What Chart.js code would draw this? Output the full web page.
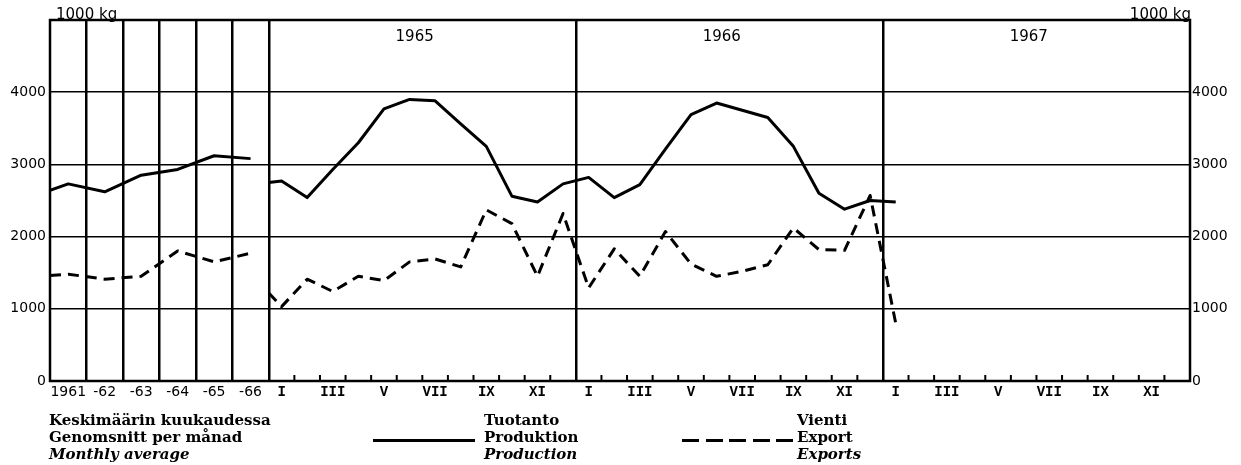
<!DOCTYPE html>
<html>
<head>
<meta charset="utf-8">
<script src="https://cdn.jsdelivr.net/npm/chart.js@4.4.0/dist/chart.umd.min.js"></script>
<style>
    body { margin: 0; background: #fff; }
    #wrap { position: relative; width: 1241px; height: 465px; }
    .note {
        position: absolute;
        top: 412px;
        font-family: "DejaVu Serif", serif;
        font-weight: bold;
        font-size: 15px;
        line-height: 17px;
        color: #000;
        white-space: nowrap;
    }
    .note i { font-style: italic; }
    .sample { position: absolute; top: 439px; height: 3px; }
</style>
</head>
<body>
<div id="wrap">
    <canvas id="chart" width="1241" height="465"></canvas>
    <div class="note" style="left:49px">Keskimäärin kuukaudessa<br>Genomsnitt per månad<br><i>Monthly average</i></div>
    <div class="sample" style="left:373px; width:102px; background:#000"></div>
    <div class="note" style="left:484px">Tuotanto<br>Produktion<br><i>Production</i></div>
    <div class="sample" style="left:682px; width:111px; background:repeating-linear-gradient(to right, #000 0 17px, transparent 17px 23.5px)"></div>
    <div class="note" style="left:797px">Vienti<br>Export<br><i>Exports</i></div>
</div>
<script>
// Annual averages, 1000 kg per month
var years = ['1961', '-62', '-63', '-64', '-65', '-66'];
var annualProduction = [2730, 2620, 2850, 2930, 3120, 3080];
var annualExport = [1480, 1410, 1450, 1800, 1650, 1770];
var annualProductionStart = 2640;
var annualExportStart = 1460;

// Monthly figures, 1000 kg
var panelYears = ['1965', '1966', '1967'];
var monthLabels = ['I', 'II', 'III', 'IV', 'V', 'VI', 'VII', 'VIII', 'IX', 'X', 'XI', 'XII'];
var production1965 = [2770, 2540, 2930, 3300, 3770, 3900, 3880, 3560, 3250, 2560, 2480, 2730];
var production1966 = [2820, 2540, 2720, 3210, 3690, 3850, 3750, 3650, 3250, 2600, 2380, 2500];
var production1967 = [2480];
var export1965 = [1030, 1410, 1240, 1450, 1390, 1650, 1690, 1580, 2370, 2180, 1450, 2320];
var export1966 = [1290, 1830, 1450, 2070, 1620, 1450, 1520, 1610, 2120, 1820, 1810, 2570];
var export1967 = [800];
var monthlyProductionStart = 2750;
var monthlyExportStart = 1220;

var yTicks = [0, 1000, 2000, 3000, 4000];

// x axis is measured in months; a yearly column is a bit wider than a month
var YEAR_W = 1.425;
var M0 = years.length * YEAR_W;
var X_MAX = M0 + 36;

function annualPoints(start, values) {
    var pts = [{ x: 0, y: start }];
    values.forEach(function(v, i) { pts.push({ x: (i + 0.5) * YEAR_W, y: v }); });
    return pts;
}
function monthlyPoints(start, perYear) {
    var pts = [{ x: M0, y: start }];
    perYear.forEach(function(vals, k) {
        vals.forEach(function(v, m) { pts.push({ x: M0 + 12 * k + m + 0.5, y: v }); });
    });
    return pts;
}

// tick list: labels at column / month centres, lines at column and year boundaries
var tickDefs = [];
years.forEach(function(y, i) { tickDefs.push({ value: (i + 0.5) * YEAR_W, label: y, kind: 'year' }); });
for (var i = 1; i <= years.length; i++) tickDefs.push({ value: i * YEAR_W, label: '', line: true });
for (var k = 0; k < 3; k++) {
    for (var m = 0; m < 12; m += 2) {
        tickDefs.push({ value: M0 + 12 * k + m + 0.5, label: monthLabels[m], kind: 'month' });
    }
    if (k > 0) tickDefs.push({ value: M0 + 12 * k, label: '', line: true });
}
tickDefs.sort(function(a, b) { return a.value - b.value; });

var sansFont = { family: 'DejaVu Sans', size: 14 };
var monoFont = { family: 'Liberation Mono', size: 14, weight: 'bold' };

var decorPlugin = {
    id: 'decor',
    afterDraw: function(chart) {
        var c = chart.ctx, a = chart.chartArea, x = chart.scales.x;
        c.save();
        c.strokeStyle = '#000';
        c.fillStyle = '#000';

        // small month ticks standing on the base line
        c.lineWidth = 2;
        for (var k = 0; k < 3; k++) {
            for (var m = 1; m < 12; m++) {
                var px = x.getPixelForValue(M0 + 12 * k + m);
                c.beginPath();
                c.moveTo(px, a.bottom);
                c.lineTo(px, a.bottom - 6);
                c.stroke();
            }
        }

        // frame
        c.lineWidth = 2.5;
        c.strokeRect(a.left, a.top, a.right - a.left, a.bottom - a.top);

        // year headings, a little left of the panel centre as in the print
        c.font = '15px "DejaVu Sans"';
        c.textAlign = 'center';
        c.textBaseline = 'middle';
        panelYears.forEach(function(y, k) {
            c.fillText(y, x.getPixelForValue(M0 + 12 * k + 5.7), a.top + 17);
        });

        // unit labels
        c.font = '15px "DejaVu Sans"';
        c.textBaseline = 'alphabetic';
        c.textAlign = 'left';
        c.fillText('1000 kg', a.left + 6, a.top - 1);
        c.textAlign = 'right';
        c.fillText('1000 kg', a.right + 1, a.top - 1);
        c.restore();
    }
};

var lineStyle = {
    borderColor: '#000',
    borderWidth: 3,
    pointRadius: 0,
    tension: 0,
    fill: false,
    borderJoinStyle: 'round'
};

var ctx = document.getElementById('chart').getContext('2d');
var chart = new Chart(ctx, {
    type: 'line',
    data: {
        datasets: [
            Object.assign({ label: 'Tuotanto', data: annualPoints(annualProductionStart, annualProduction) }, lineStyle),
            Object.assign({ label: 'Vienti', data: annualPoints(annualExportStart, annualExport), borderDash: [11, 7] }, lineStyle),
            Object.assign({ label: 'Tuotanto', data: monthlyPoints(monthlyProductionStart, [production1965, production1966, production1967]) }, lineStyle),
            Object.assign({ label: 'Vienti', data: monthlyPoints(monthlyExportStart, [export1965, export1966, export1967]), borderDash: [11, 7] }, lineStyle)
        ]
    },
    options: {
        responsive: false,
        animation: false,
        devicePixelRatio: 1,
        layout: { padding: { top: 20, left: 0, right: 0, bottom: 0 } },
        plugins: {
            legend: { display: false },
            tooltip: { enabled: false }
        },
        scales: {
            x: {
                type: 'linear',
                min: 0,
                max: X_MAX,
                afterBuildTicks: function(axis) {
                    axis.ticks = tickDefs.map(function(t) { return { value: t.value }; });
                },
                afterFit: function(axis) { axis.height = 84; },
                ticks: {
                    autoSkip: false,
                    maxRotation: 0,
                    padding: 3,
                    color: '#000',
                    font: function(c) {
                        var t = tickDefs[c.index];
                        return t && t.kind === 'month' ? monoFont : sansFont;
                    },
                    callback: function(value, index) { return tickDefs[index] ? tickDefs[index].label : ''; }
                },
                grid: {
                    drawTicks: false,
                    lineWidth: 2.5,
                    color: function(c) {
                        var t = tickDefs[c.index];
                        return t && t.line ? '#000' : 'rgba(0,0,0,0)';
                    }
                },
                border: { display: false }
            },
            y: {
                min: 0,
                max: 5000,
                afterBuildTicks: function(axis) {
                    axis.ticks = yTicks.concat([5000]).map(function(v) { return { value: v }; });
                },
                afterFit: function(axis) { axis.width = 50; },
                ticks: {
                    padding: 4,
                    color: '#000',
                    font: sansFont,
                    callback: function(v) { return v === 5000 ? '' : String(v); }
                },
                grid: { color: '#000', lineWidth: 1.5, drawTicks: false },
                border: { display: false }
            },
            y2: {
                position: 'right',
                min: 0,
                max: 5000,
                afterBuildTicks: function(axis) {
                    axis.ticks = yTicks.map(function(v) { return { value: v }; });
                },
                afterFit: function(axis) { axis.width = 51; },
                ticks: {
                    padding: 2,
                    color: '#000',
                    font: sansFont,
                    callback: function(v) { return String(v); }
                },
                grid: { display: false, drawTicks: false },
                border: { display: false }
            }
        }
    },
    plugins: [decorPlugin]
});
</script>
</body>
</html>
